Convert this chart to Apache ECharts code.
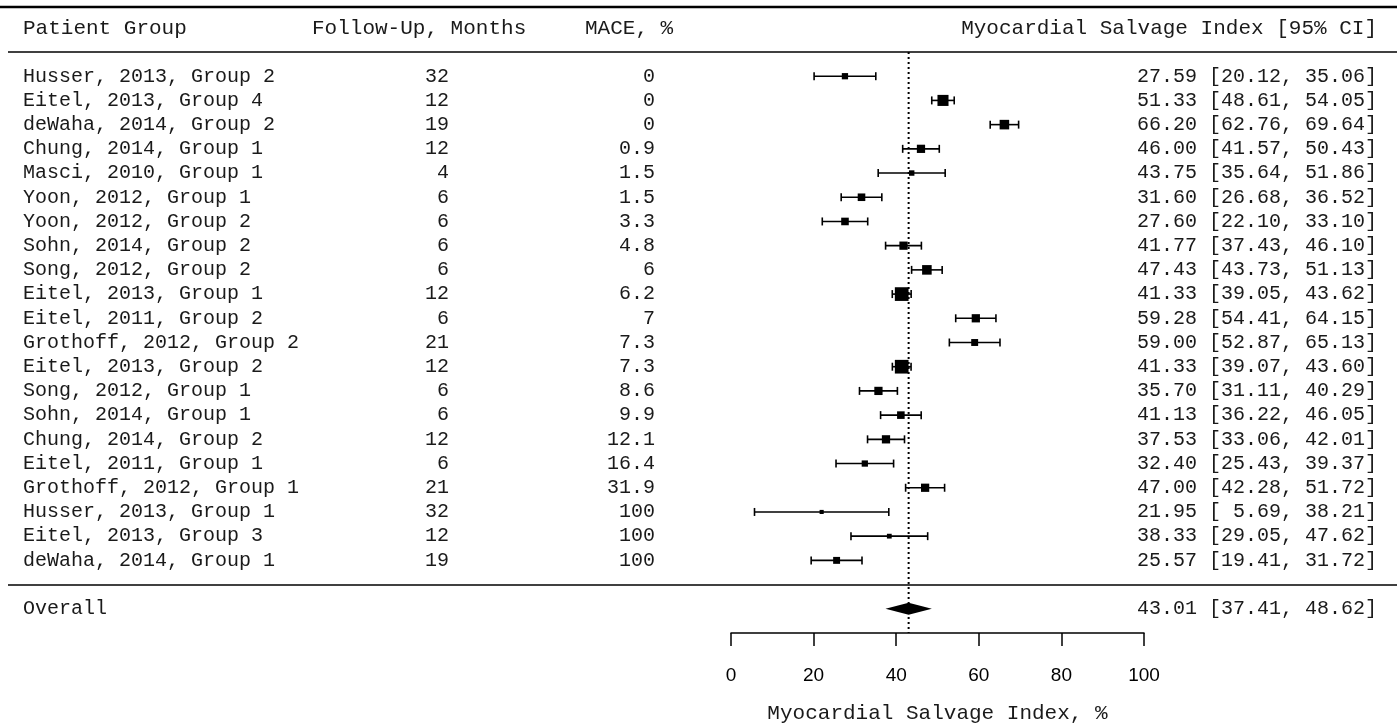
<!DOCTYPE html>
<html>
<head>
<meta charset="utf-8">
<script src="https://cdn.jsdelivr.net/npm/echarts@6/dist/echarts.min.js"></script>
<style>
  html, body { margin: 0; padding: 0; background: #fff; }
  #main { width: 1397px; height: 725px; }
</style>
</head>
<body>
<div id="main"></div>
<script>
// data
var studies = ['Husser, 2013, Group 2', 'Eitel, 2013, Group 4', 'deWaha, 2014, Group 2', 'Chung, 2014, Group 1',
    'Masci, 2010, Group 1', 'Yoon, 2012, Group 1', 'Yoon, 2012, Group 2', 'Sohn, 2014, Group 2',
    'Song, 2012, Group 2', 'Eitel, 2013, Group 1', 'Eitel, 2011, Group 2', 'Grothoff, 2012, Group 2',
    'Eitel, 2013, Group 2', 'Song, 2012, Group 1', 'Sohn, 2014, Group 1', 'Chung, 2014, Group 2',
    'Eitel, 2011, Group 1', 'Grothoff, 2012, Group 1', 'Husser, 2013, Group 1', 'Eitel, 2013, Group 3',
    'deWaha, 2014, Group 1'];
var followUp = [32, 12, 19, 12, 4, 6, 6, 6, 6, 12, 6, 21, 12, 6, 6, 12, 6, 21, 32, 12, 19];
var mace = [0, 0, 0, 0.9, 1.5, 1.5, 3.3, 4.8, 6, 6.2, 7, 7.3, 7.3, 8.6, 9.9, 12.1, 16.4, 31.9, 100, 100, 100];
var msi = [27.59, 51.33, 66.20, 46.00, 43.75, 31.60, 27.60, 41.77, 47.43, 41.33, 59.28, 59.00, 41.33, 35.70,
    41.13, 37.53, 32.40, 47.00, 21.95, 38.33, 25.57];
var ciLow = [20.12, 48.61, 62.76, 41.57, 35.64, 26.68, 22.10, 37.43, 43.73, 39.05, 54.41, 52.87, 39.07, 31.11,
    36.22, 33.06, 25.43, 42.28, 5.69, 29.05, 19.41];
var ciHigh = [35.06, 54.05, 69.64, 50.43, 51.86, 36.52, 33.10, 46.10, 51.13, 43.62, 64.15, 65.13, 43.60, 40.29,
    46.05, 42.01, 39.37, 51.72, 38.21, 47.62, 31.72];
// relative study weights (%), shown by box size
var weights = [3.8, 6.7, 5.8, 5.0, 3.3, 4.6, 4.6, 5.0, 5.8, 8.3, 5.0, 4.2, 8.3, 5.0, 4.6, 5.0, 3.8, 5.0, 2.5, 2.9, 4.2];
// overall estimate [est, low, high]
var overall = [43.01, 37.41, 48.62];
var xTicks = [0, 20, 40, 60, 80, 100];

var MONO = '"Liberation Mono", "DejaVu Sans Mono", monospace';
var TXT = '#1a1a1a';

function fmt(v) {
    var s = v.toFixed(2);
    while (s.length < 5) s = ' ' + s;
    return s;
}
function ciText(e, l, h) {
    return fmt(e) + ' [' + fmt(l) + ', ' + fmt(h) + ']';
}

var studyData = [];
var tableData = [];
for (var i = 0; i < studies.length; i++) {
    studyData.push([i + 1, msi[i], ciLow[i], ciHigh[i], weights[i]]);
    tableData.push([i + 1, i]);
}
var overallRow = studies.length + 2;
tableData.push([overallRow, -1]);

var myChart = echarts.init(document.getElementById('main'));

var option = {
    animation: false,
    backgroundColor: '#fff',
    grid: {
        left: 731,
        right: 253,
        top: 52,
        bottom: 92,
        containLabel: false,
        outerBoundsMode: 'none'
    },
    xAxis: {
        type: 'value',
        min: xTicks[0],
        max: xTicks[xTicks.length - 1],
        interval: xTicks[1] - xTicks[0],
        name: 'Myocardial Salvage Index, %',
        nameLocation: 'middle',
        nameGap: 70,
        nameTextStyle: { fontFamily: MONO, fontSize: 21, color: TXT },
        axisLine: { onZero: false, lineStyle: { color: '#000', width: 1.5 } },
        axisTick: { length: 13, lineStyle: { color: '#000', width: 1.5 } },
        axisLabel: { margin: 33, fontFamily: 'Liberation Sans', fontSize: 19, color: '#000' },
        splitLine: { show: false }
    },
    yAxis: {
        type: 'value',
        show: false,
        inverse: true,
        min: 0,
        max: 24
    },
    graphic: [
        { type: 'line', shape: { x1: 0, y1: 7, x2: 1397, y2: 7 }, style: { stroke: '#000', lineWidth: 2.5 } },
        { type: 'line', shape: { x1: 8, y1: 52, x2: 1397, y2: 52 }, style: { stroke: '#000', lineWidth: 1.5 } },
        { type: 'line', shape: { x1: 8, y1: 585, x2: 1397, y2: 585 }, style: { stroke: '#000', lineWidth: 1.5 } },
        { type: 'text', x: 23, y: 28, style: { text: 'Patient Group', font: '21px ' + MONO, fill: TXT,
            textAlign: 'left', textVerticalAlign: 'middle', align: 'left', verticalAlign: 'middle' } },
        { type: 'text', x: 312, y: 28, style: { text: 'Follow-Up, Months', font: '21px ' + MONO, fill: TXT,
            textAlign: 'left', textVerticalAlign: 'middle', align: 'left', verticalAlign: 'middle' } },
        { type: 'text', x: 585, y: 28, style: { text: 'MACE, %', font: '21px ' + MONO, fill: TXT,
            textAlign: 'left', textVerticalAlign: 'middle', align: 'left', verticalAlign: 'middle' } },
        { type: 'text', x: 1377, y: 28, style: { text: 'Myocardial Salvage Index [95% CI]', font: '21px ' + MONO, fill: TXT,
            textAlign: 'right', textVerticalAlign: 'middle', align: 'right', verticalAlign: 'middle' } }
    ],
    series: [
        {
            // reference line at the overall estimate
            name: 'ref',
            type: 'line',
            symbol: 'none',
            silent: true,
            z: 1,
            lineStyle: { color: '#000', width: 2, type: [2, 3] },
            data: [[overall[0], 0], [overall[0], 24]]
        },
        {
            name: 'studies',
            type: 'custom',
            z: 3,
            clip: false,
            renderItem: function (params, api) {
                var row = api.value(0);
                var pE = api.coord([api.value(1), row]);
                var pL = api.coord([api.value(2), row]);
                var pH = api.coord([api.value(3), row]);
                var s = api.value(4) * 1.65;
                var cap = 4;
                var ls = { stroke: '#000', lineWidth: 1.6 };
                return {
                    type: 'group',
                    children: [
                        { type: 'line', shape: { x1: pL[0], y1: pL[1], x2: pH[0], y2: pH[1] }, style: ls },
                        { type: 'line', shape: { x1: pL[0], y1: pL[1] - cap, x2: pL[0], y2: pL[1] + cap }, style: ls },
                        { type: 'line', shape: { x1: pH[0], y1: pH[1] - cap, x2: pH[0], y2: pH[1] + cap }, style: ls },
                        { type: 'rect', shape: { x: pE[0] - s / 2, y: pE[1] - s / 2, width: s, height: s }, style: { fill: '#000' } }
                    ]
                };
            },
            data: studyData
        },
        {
            name: 'overall',
            type: 'custom',
            z: 3,
            clip: false,
            renderItem: function (params, api) {
                var row = api.value(0);
                var pE = api.coord([api.value(1), row]);
                var pL = api.coord([api.value(2), row]);
                var pH = api.coord([api.value(3), row]);
                var h = 6;
                return {
                    type: 'polygon',
                    shape: { points: [[pL[0], pL[1]], [pE[0], pE[1] - h], [pH[0], pH[1]], [pE[0], pE[1] + h]] },
                    style: { fill: '#000' }
                };
            },
            data: [[overallRow, overall[0], overall[1], overall[2]]]
        },
        {
            name: 'table',
            type: 'custom',
            z: 2,
            clip: false,
            silent: true,
            renderItem: function (params, api) {
                var y = api.coord([0, api.value(0)])[1];
                var k = api.value(1);
                var font = '20px ' + MONO;
                function t(text, x, align) {
                    return { type: 'text', style: { text: text, x: x, y: y, font: font, fill: TXT,
                        textAlign: align, textVerticalAlign: 'middle', align: align, verticalAlign: 'middle' } };
                }
                if (k < 0) {
                    return { type: 'group', children: [
                        t('Overall', 23, 'left'),
                        t(ciText(overall[0], overall[1], overall[2]), 1377, 'right')
                    ] };
                }
                return { type: 'group', children: [
                    t(studies[k], 23, 'left'),
                    t(String(followUp[k]), 449, 'right'),
                    t(String(mace[k]), 655, 'right'),
                    t(ciText(msi[k], ciLow[k], ciHigh[k]), 1377, 'right')
                ] };
            },
            data: tableData
        }
    ]
};
myChart.setOption(option);
</script>
</body>
</html>
